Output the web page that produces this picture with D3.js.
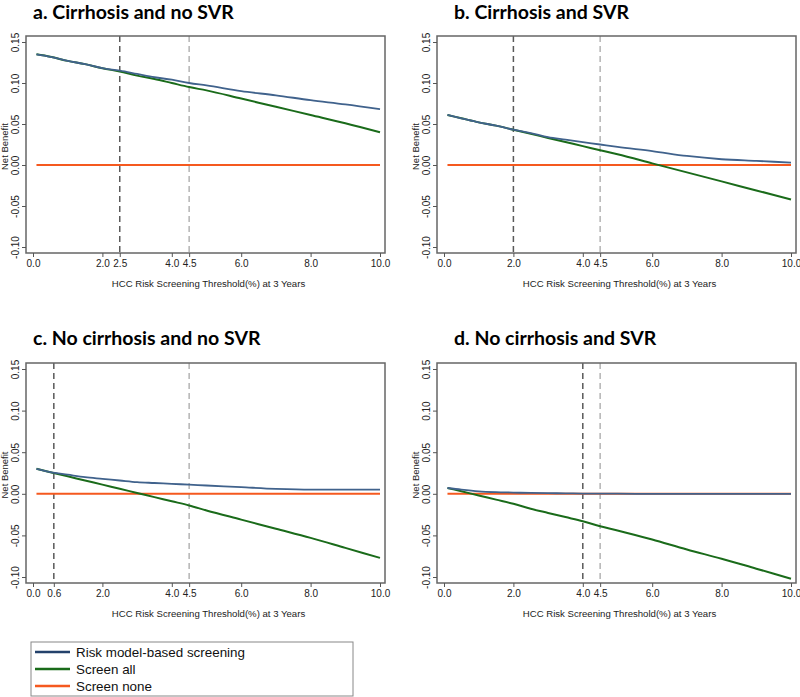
<!DOCTYPE html>
<html>
<head>
<meta charset="utf-8">
<script src="https://cdn.jsdelivr.net/npm/d3@7"></script>
<style>
  body { margin: 0; background: #fff; }
  svg { display: block; }
  .lbl { font-family: Arial, "Liberation Sans", sans-serif; }
</style>
</head>
<body>
<div id="chart"></div>
<script>
// thresholds (%) shared by every panel
const thresholds = [0.1, 0.5, 1, 1.5, 2, 2.5, 3, 3.5, 4, 4.5, 5, 6, 7, 8, 9, 10];

const panelTitles = ["a. Cirrhosis and no SVR", "b. Cirrhosis and SVR", "c. No cirrhosis and no SVR", "d. No cirrhosis and SVR"];

// net benefit, risk model-based screening
const modelA = [0.135, 0.132, 0.127, 0.123, 0.118, 0.115, 0.111, 0.107, 0.104, 0.100, 0.097, 0.090, 0.085, 0.079, 0.074, 0.068];
const modelB = [0.061, 0.057, 0.052, 0.048, 0.043, 0.039, 0.034, 0.031, 0.028, 0.025, 0.022, 0.017, 0.011, 0.007, 0.005, 0.003];
const modelC = [0.030, 0.026, 0.023, 0.020, 0.018, 0.016, 0.014, 0.013, 0.012, 0.011, 0.010, 0.008, 0.006, 0.005, 0.005, 0.005];
const modelD = [0.007, 0.005, 0.003, 0.002, 0.0015, 0.001, 0.0008, 0.0005, 0.0003, 0.0002, 0.0001, 0, 0, 0, 0, 0];

// net benefit, screen all
const allA = [0.135, 0.132, 0.127, 0.123, 0.118, 0.114, 0.109, 0.105, 0.100, 0.095, 0.091, 0.081, 0.071, 0.061, 0.051, 0.040];
const allB = [0.061, 0.057, 0.052, 0.048, 0.043, 0.038, 0.033, 0.028, 0.023, 0.018, 0.013, 0.002, -0.009, -0.020, -0.031, -0.042];
const allC = [0.030, 0.026, 0.021, 0.016, 0.011, 0.006, 0.001, -0.004, -0.009, -0.014, -0.020, -0.031, -0.042, -0.053, -0.065, -0.077];
const allD = [0.007, 0.003, -0.002, -0.007, -0.012, -0.018, -0.023, -0.028, -0.033, -0.039, -0.044, -0.055, -0.067, -0.078, -0.090, -0.102];

// screen none
const noneValue = 0;

// dashed reference thresholds: [dark, light]
const refLines = [[2.5, 4.5], [2.0, 4.5], [0.6, 4.5], [4.0, 4.5]];

const xTicks = [
  [0, 2, 2.5, 4, 4.5, 6, 8, 10],
  [0, 2, 4, 4.5, 6, 8, 10],
  [0, 0.6, 2, 4, 4.5, 6, 8, 10],
  [0, 2, 4, 4.5, 6, 8, 10]
];
const yTicks = [0.15, 0.10, 0.05, 0.00, -0.05, -0.10];

const legendLabels = ["Risk model-based screening", "Screen all", "Screen none"];

const modelSeries = [modelA, modelB, modelC, modelD];
const allSeries = [allA, allB, allC, allD];

const colors = { model: "#40628c", all: "#1a6b1a", none: "#f5591f" };

const svg = d3.select("#chart").append("svg")
  .attr("width", 800)
  .attr("height", 697);

const boxes = [
  { left: 26, top: 36, w: 359, h: 217, titleY: 19 },
  { left: 437, top: 36, w: 359, h: 217, titleY: 19 },
  { left: 26, top: 363, w: 359, h: 220, titleY: 345 },
  { left: 437, top: 363, w: 359, h: 220, titleY: 345 }
];

// plain hyphen instead of unicode minus
const fmt1 = d => d3.format(".1f")(d).replace("−", "-");
const fmt2 = d => d3.format(".2f")(d).replace("−", "-");

boxes.forEach(function(b, i) {
  const g = svg.append("g").attr("transform", "translate(" + b.left + "," + b.top + ")");

  // x: 0 sits 7px inside the frame, 10 sits 5px inside
  const x = d3.scaleLinear().domain([0, 10]).range([7, b.w - 5]);
  const y = d3.scaleLinear().domain([0.15, -0.10]).range([6, b.h - 6]);

  // title
  svg.append("text")
    .attr("x", b.left + 7 + (i % 2 ? 10 : 0))
    .attr("y", b.titleY)
    .style("font-family", "Lato, 'Open Sans', sans-serif")
    .style("font-weight", "bold")
    .style("font-size", "19.5px")
    .attr("fill", "#000")
    .text(panelTitles[i]);

  // reference lines
  g.selectAll(".ref")
    .data(refLines[i])
    .enter().append("line")
    .attr("x1", d => x(d)).attr("x2", d => x(d))
    .attr("y1", 0).attr("y2", b.h)
    .attr("stroke", (d, j) => j === 0 ? "#5a5a5a" : "#b4b4b4")
    .attr("stroke-width", 1.5)
    .attr("stroke-dasharray", "6,4");

  // screen none
  g.append("line")
    .attr("x1", x(thresholds[0])).attr("x2", x(10))
    .attr("y1", y(noneValue)).attr("y2", y(noneValue))
    .attr("stroke", colors.none)
    .attr("stroke-width", 2);

  const line = d3.line()
    .x((d, j) => x(thresholds[j]))
    .y(d => y(d))
    .curve(d3.curveMonotoneX);

  g.append("path")
    .datum(allSeries[i])
    .attr("d", line)
    .attr("fill", "none")
    .attr("stroke", colors.all)
    .attr("stroke-width", 2);

  g.append("path")
    .datum(modelSeries[i])
    .attr("d", line)
    .attr("fill", "none")
    .attr("stroke", colors.model)
    .attr("stroke-width", 1.8);

  // frame
  g.append("rect")
    .attr("width", b.w).attr("height", b.h)
    .attr("fill", "none")
    .attr("stroke", "#666")
    .attr("stroke-width", 1.5);

  // x axis
  const xAxis = g.append("g")
    .attr("transform", "translate(0," + b.h + ")")
    .call(d3.axisBottom(x).tickValues(xTicks[i]).tickFormat(fmt1).tickSize(4).tickPadding(3));
  xAxis.attr("font-family", null).attr("font-size", null);
  xAxis.select(".domain").remove();
  xAxis.selectAll("line").attr("stroke", "#555");
  xAxis.selectAll("text")
    .attr("class", "lbl")
    .style("font-size", "10px")
    .attr("fill", "#222");

  // y axis
  const yAxis = g.append("g")
    .call(d3.axisLeft(y).tickValues(yTicks).tickFormat(fmt2).tickSize(4).tickPadding(0));
  yAxis.attr("font-family", null).attr("font-size", null);
  yAxis.select(".domain").remove();
  yAxis.selectAll("line").attr("stroke", "#555");
  yAxis.selectAll("text")
    .attr("x", null).attr("dy", "0.35em")
    .attr("transform", "translate(-11,0) rotate(-90)")
    .attr("text-anchor", "middle")
    .attr("class", "lbl")
    .style("font-size", "10px")
    .attr("fill", "#222");

  // axis titles
  g.append("text")
    .attr("class", "lbl")
    .attr("transform", "translate(-21," + (b.h / 2 + 2) + ") rotate(-90)")
    .attr("dy", "0.35em")
    .attr("text-anchor", "middle")
    .style("font-size", "9.5px")
    .attr("fill", "#222")
    .text("Net Benefit");

  g.append("text")
    .attr("class", "lbl")
    .attr("x", b.w / 2 + 3)
    .attr("y", b.h + 34)
    .attr("text-anchor", "middle")
    .style("font-size", "9.6px")
    .attr("fill", "#222")
    .text("HCC Risk Screening Threshold(%) at 3 Years");
});

// legend
const legend = svg.append("g").attr("transform", "translate(31,642)");
legend.append("rect")
  .attr("width", 322).attr("height", 54)
  .attr("fill", "#fff")
  .attr("stroke", "#888")
  .attr("stroke-width", 1);

const legendColors = ["#23416b", colors.all, colors.none];
const item = legend.selectAll(".item")
  .data(legendLabels)
  .enter().append("g")
  .attr("transform", (d, i) => "translate(0," + (10 + i * 17) + ")");
item.append("line")
  .attr("x1", 4).attr("x2", 39)
  .attr("stroke", (d, i) => legendColors[i])
  .attr("stroke-width", 2.5);
item.append("text")
  .attr("class", "lbl")
  .attr("x", 45).attr("dy", "0.35em")
  .style("font-size", "13.4px")
  .attr("fill", "#111")
  .text(d => d);
</script>
</body>
</html>
